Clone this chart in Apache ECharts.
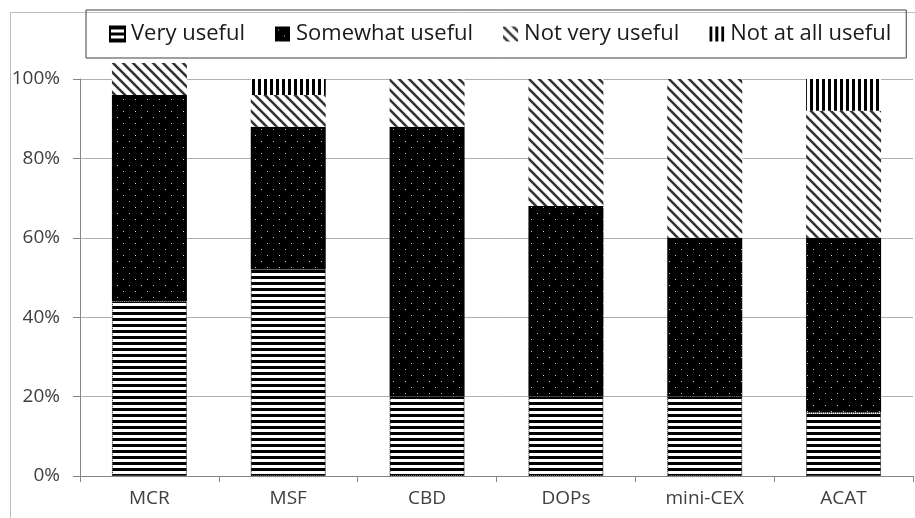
<!DOCTYPE html>
<html><head><meta charset="utf-8">
<script src="https://cdn.jsdelivr.net/npm/echarts@6.0.0/dist/echarts.min.js"></script>
<style>html,body{margin:0;padding:0;background:#fff}#c{width:915px;height:518px}</style>
</head><body><div id="c"></div>
<script>
const categories = ['MCR', 'MSF', 'CBD', 'DOPs', 'mini-CEX', 'ACAT'];
const seriesNames = ['Very useful', 'Somewhat useful', 'Not very useful', 'Not at all useful'];
const veryUseful = [44, 52, 20, 20, 20, 16];
const somewhatUseful = [52, 36, 68, 48, 40, 44];
const notVeryUseful = [8, 8, 12, 32, 40, 32];
const notAtAllUseful = [0, 4, 0, 0, 0, 8];

function tile(w, h, draw) {
  const c = document.createElement('canvas');
  c.width = w; c.height = h;
  const g = c.getContext('2d');
  draw(g, w, h);
  return { image: c, repeat: 'repeat' };
}
const patHoriz = tile(6, 6, (g, w, h) => { g.fillStyle = '#fff'; g.fillRect(0, 0, w, h); g.fillStyle = '#000'; g.fillRect(0, 0, w, 3); });
const patDots = tile(12, 12, (g, w, h) => { g.fillStyle = '#000'; g.fillRect(0, 0, w, h); g.fillStyle = '#c8c8c8'; g.fillRect(3, 3, 1, 1); g.fillRect(9, 9, 1, 1); });
const patDiag = tile(10, 10, (g, w, h) => {
  g.fillStyle = '#fff'; g.fillRect(0, 0, w, h);
  g.strokeStyle = '#333'; g.lineWidth = 2.6;
  [-10, 0, 10].forEach(k => { g.beginPath(); g.moveTo(k - 3, -3); g.lineTo(k + 13, 13); g.stroke(); });
});
const patVert = tile(6, 6, (g, w, h) => { g.fillStyle = '#fff'; g.fillRect(0, 0, w, h); g.fillStyle = '#000'; g.fillRect(0, 0, 3, h); });

const FONT = '"Open Sans", sans-serif';
const values = [veryUseful, somewhatUseful, notVeryUseful, notAtAllUseful];
const fills = [patHoriz, patDots, patDiag, patVert];

const chart = echarts.init(document.getElementById('c'), null, { renderer: 'canvas' });
chart.setOption({
  animation: false,
  backgroundColor: '#fff',
  graphic: [{
    type: 'rect', left: 8, top: 10, shape: { width: 1000, height: 1000 },
    style: { fill: 'none', stroke: '#bfbfbf', lineWidth: 1 }, z: -1
  }],
  legend: {
    left: 86, top: 10,
    padding: [13, 15, 13, 23],
    itemGap: 30, itemWidth: 15, itemHeight: 15,
    icon: 'rect',
    borderColor: '#404040', borderWidth: 1,
    selectedMode: false,
    textStyle: { fontFamily: FONT, fontSize: 22, color: '#1a1a1a', padding: [0, 0, 0, 1] },
    data: seriesNames
  },
  grid: { left: 80, right: 2, top: 79, bottom: 42 },
  xAxis: {
    type: 'category', data: categories,
    axisLine: { lineStyle: { color: '#868686' } },
    axisTick: { show: true, length: 6, lineStyle: { color: '#868686' } },
    axisLabel: { fontFamily: FONT, fontSize: 19, color: '#404040', margin: 13 }
  },
  yAxis: {
    type: 'value', min: 0, max: 100, interval: 20,
    axisLine: { show: true, lineStyle: { color: '#868686' } },
    axisTick: { show: true, length: 7, lineStyle: { color: '#868686' } },
    axisLabel: { fontFamily: FONT, fontSize: 19, color: '#404040', margin: 20, formatter: '{value}%' },
    splitLine: { lineStyle: { color: '#b0b0b0' } }
  },
  series: seriesNames.map((name, i) => ({
    name, type: 'bar', stack: 'total', data: values[i],
    barWidth: '54%', clip: false,
    itemStyle: i === 0
      ? { color: fills[i], borderColor: '#000', borderWidth: 1, borderType: 'dotted' }
      : { color: fills[i] }
  }))
});
</script></body></html>
